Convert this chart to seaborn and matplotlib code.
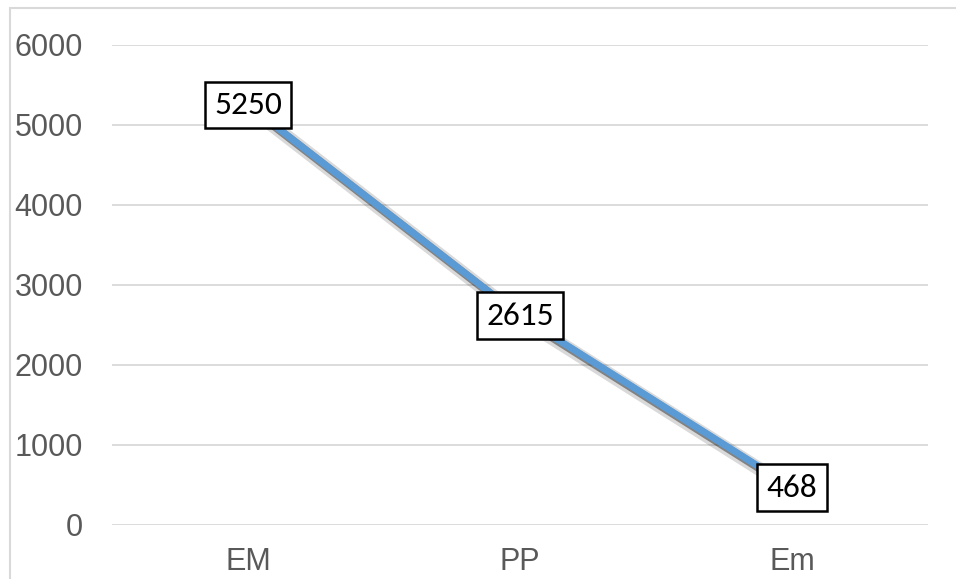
import pandas as pd
import matplotlib
matplotlib.use("Agg")
import matplotlib.pyplot as plt
import matplotlib.patheffects as pe
from matplotlib.patches import Rectangle
import seaborn as sns

# data
categories = ["EM", "PP", "Em"]
values = [5250, 2615, 468]
y_ticks = [0, 1000, 2000, 3000, 4000, 5000, 6000]

sns.set_style("white")
plt.rcParams['font.family'] = ['Liberation Sans', 'DejaVu Sans']

df = pd.DataFrame({"cat": categories, "val": values})

fig = plt.figure(figsize=(9.56, 5.79), dpi=100, facecolor='white')
ax = fig.add_axes([112 / 956, 1 - 525 / 579, (928 - 112) / 956, (525 - 45) / 579])

# outer chart border (Excel chart area)
fig.patches.append(Rectangle((9.5 / 956, -0.02), 1.0, 1 - 7.5 / 579 + 0.02,
                             transform=fig.transFigure, fill=False,
                             edgecolor='#D9D9D9', linewidth=1.5))

sns.lineplot(data=df, x="cat", y="val", ax=ax, color='#5B9BD5', linewidth=5,
             sort=False, zorder=3,
             path_effects=[pe.SimpleLineShadow(offset=(4, -4), shadow_color='black', alpha=0.15, linewidth=10),
                           pe.SimpleLineShadow(offset=(2.5, -2.5), shadow_color='black', alpha=0.4, linewidth=6),
                           pe.Normal()])

# data labels in boxes
for i, v in enumerate(values):
    ax.text(i, v, str(v), ha='center', va='center', fontsize=24, color='black',
            family=['Carlito', 'Liberation Sans', 'DejaVu Sans'], zorder=5,
            bbox=dict(boxstyle='square,pad=0.28', facecolor='white', edgecolor='black', linewidth=1.8))

ax.set_xlim(-0.5, 2.5)
ax.set_ylim(0, 6000)
ax.set_yticks(y_ticks)
ax.set_yticklabels([str(t) for t in y_ticks])
ax.set_xlabel("")
ax.set_ylabel("")
ax.grid(axis='y', color='#D9D9D9', linewidth=1.3)
ax.grid(axis='x', visible=False)
ax.set_axisbelow(True)
for s in ax.spines.values():
    s.set_visible(False)
ax.tick_params(axis='y', length=0, pad=21, labelsize=22, labelcolor='#595959')
ax.tick_params(axis='x', length=0, pad=16, labelsize=22, labelcolor='#595959')

fig.savefig("out.png", dpi=100)
